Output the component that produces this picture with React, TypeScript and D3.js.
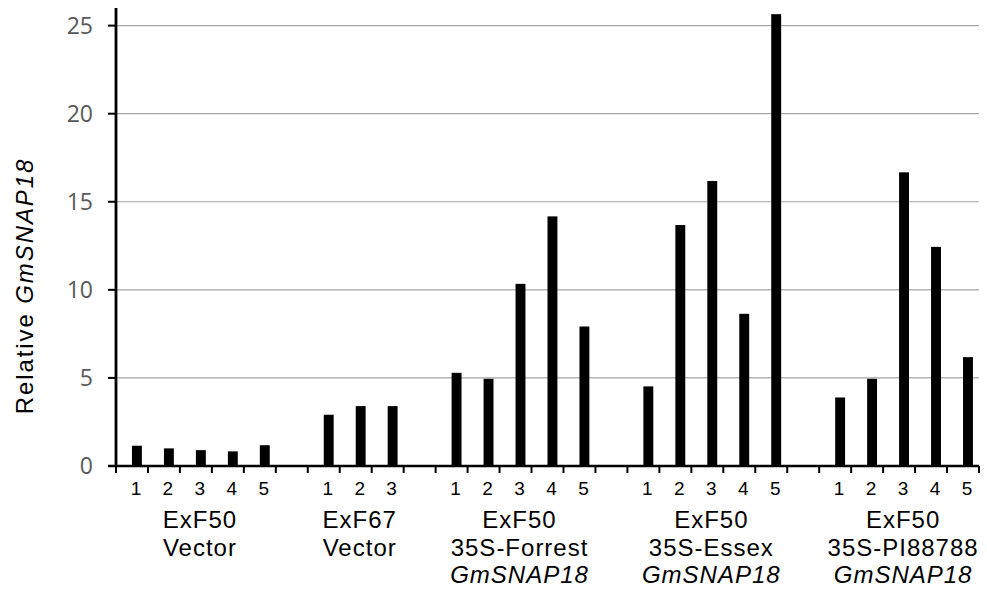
import React from "react";
import * as d3 from "d3";

// values
const exf50Vector = [1.15, 1.0, 0.9, 0.83, 1.18];
const exf67Vector = [2.91, 3.4, 3.4];
const forrest = [5.29, 4.95, 10.34, 14.17, 7.92];
const essex = [4.52, 13.68, 16.18, 8.64, 25.65];
const pi88788 = [3.89, 4.95, 16.67, 12.44, 6.18];

const groupValues = [exf50Vector, exf67Vector, forrest, essex, pi88788];
const groupLabels = [
  ["ExF50", "Vector"],
  ["ExF67", "Vector"],
  ["ExF50", "35S-Forrest", "GmSNAP18"],
  ["ExF50", "35S-Essex", "GmSNAP18"],
  ["ExF50", "35S-PI88788", "GmSNAP18"],
];
const yTicks = [0, 5, 10, 15, 20, 25];

const width = 987;
const height = 594;
const margin = { top: 8, right: 8, bottom: 128, left: 116 };

type Slot = { id: string; group: number; index: number; value: number | null };

const App = () => {
  // one slot per bar, plus an empty slot between groups
  const slots: Slot[] = [];
  groupValues.forEach((vals, g) => {
    vals.forEach((v, i) => slots.push({ id: `g${g}-${i}`, group: g, index: i, value: v }));
    if (g < groupValues.length - 1) slots.push({ id: `gap${g}`, group: g, index: -1, value: null });
  });

  const x = d3
    .scaleBand()
    .domain(slots.map((d) => d.id))
    .range([margin.left, width - margin.right])
    .padding(0);
  const bw = x.bandwidth();
  const barW = bw * 0.31;

  const y = d3
    .scaleLinear()
    .domain([0, 26])
    .range([height - margin.bottom, margin.top]);

  const y0 = y(0);
  const bars = slots.filter((d) => d.value !== null);
  const boundaries = slots.map((d) => x(d.id)!).concat([width - margin.right]);

  const sans = "Liberation Sans";

  return (
    <svg
      width={width}
      height={height}
      style={{ position: "absolute", left: 0, top: 0, background: "#fff" }}
    >
      {/* gridlines */}
      {yTicks
        .filter((t) => t > 0)
        .map((t) => (
          <line
            key={t}
            x1={margin.left}
            x2={width - margin.right}
            y1={y(t)}
            y2={y(t)}
            stroke="#a6a6a6"
            strokeWidth={1.2}
          />
        ))}

      {/* bars */}
      {bars.map((d) => (
        <rect
          key={d.id}
          x={x(d.id)! + bw / 2}
          y={y(d.value!)}
          width={barW}
          height={y0 - y(d.value!)}
          fill="#000"
        />
      ))}

      {/* y axis */}
      <line x1={margin.left} x2={margin.left} y1={margin.top} y2={y0} stroke="#000" strokeWidth={2.8} />
      {yTicks.map((t) => (
        <g key={t} transform={`translate(0,${y(t)})`}>
          <line x1={margin.left - 8} x2={margin.left} stroke="#000" strokeWidth={2} />
          <text
            x={margin.left - 23}
            dy="0.36em"
            textAnchor="end"
            fill="#595959"
            fontFamily="Open Sans"
            fontSize={23}
          >
            {t}
          </text>
        </g>
      ))}

      {/* x axis */}
      <line x1={margin.left - 8} x2={width - margin.right} y1={y0} y2={y0} stroke="#000" strokeWidth={2.5} />
      {boundaries.map((bx, i) => (
        <line key={i} x1={bx} x2={bx} y1={y0} y2={y0 + 7} stroke="#000" strokeWidth={2} />
      ))}

      {/* bar numbers */}
      {bars.map((d) => (
        <text
          key={d.id}
          x={x(d.id)! + bw / 2 + barW / 2 - 1}
          y={y0 + 28.5}
          textAnchor="middle"
          fontFamily={sans}
          fontSize={19}
        >
          {d.index + 1}
        </text>
      ))}

      {/* group labels */}
      {groupLabels.map((lines, g) => {
        const ids = slots.filter((s) => s.group === g && s.value !== null).map((s) => s.id);
        const cx = (x(ids[0])! + x(ids[ids.length - 1])! + bw) / 2 + 4;
        return (
          <text key={g} textAnchor="middle" fontFamily={sans} fontSize={24} letterSpacing={1}>
            {lines.map((l, i) => (
              <tspan key={i} x={cx} y={y0 + 62 + i * 27.5} fontStyle={i === 2 ? "italic" : "normal"}>
                {l}
              </tspan>
            ))}
          </text>
        );
      })}

      {/* y label */}
      <text
        transform={`translate(33,${(margin.top + y0) / 2 + 49}) rotate(-90)`}
        textAnchor="middle"
        fontFamily={sans}
        fontSize={24}
        letterSpacing={1.9}
      >
        Relative <tspan fontStyle="italic">GmSNAP18</tspan>
      </text>
    </svg>
  );
};

export default App;
